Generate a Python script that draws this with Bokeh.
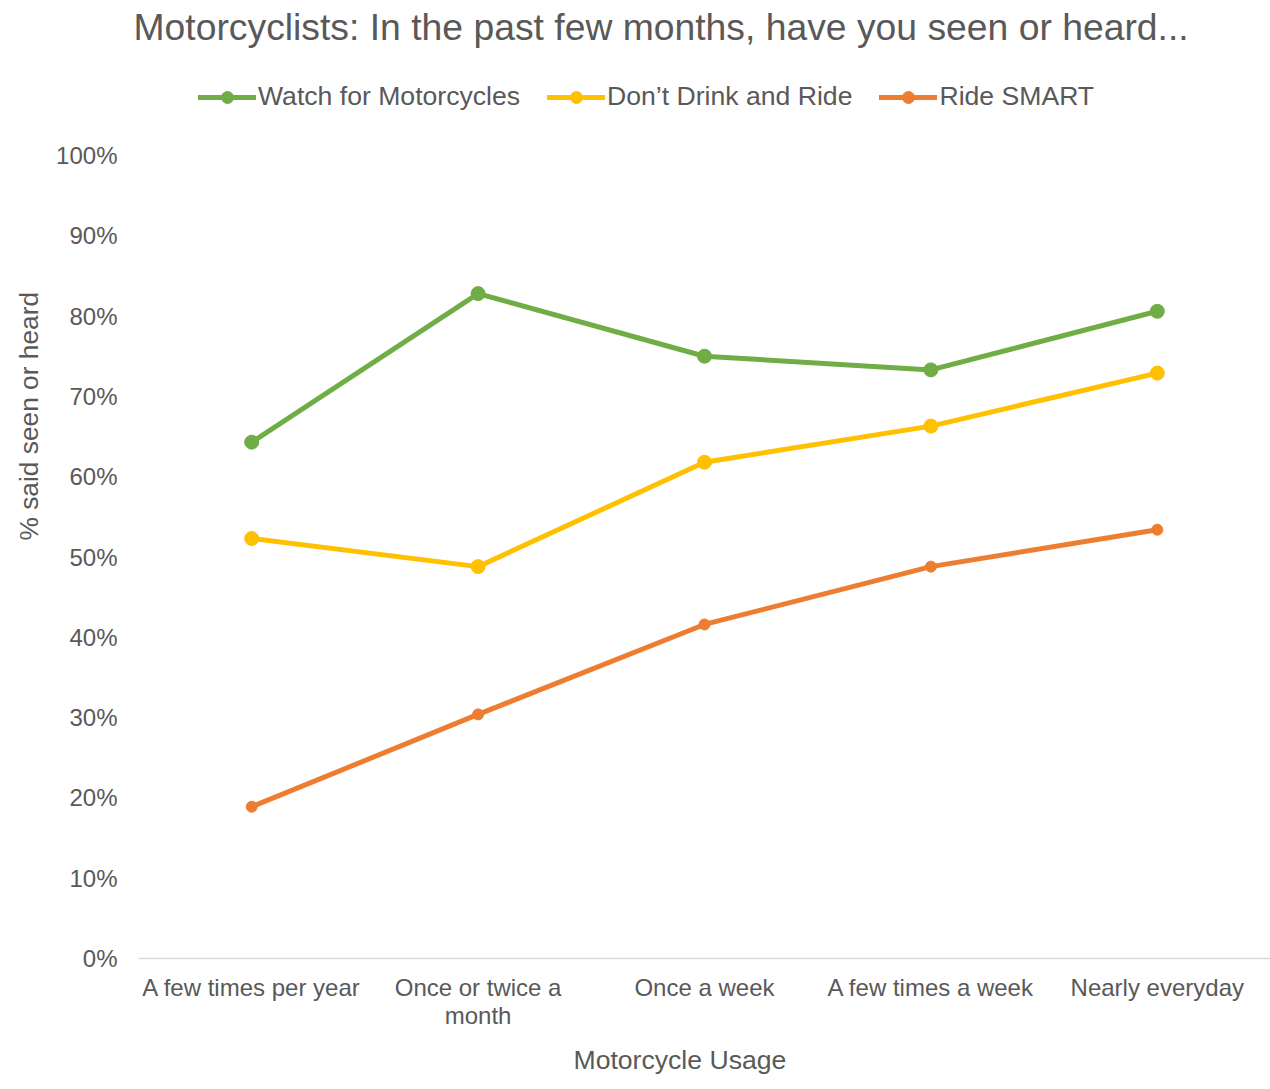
import json
from bokeh.plotting import figure
from bokeh.models import (FactorRange, Range1d, NumeralTickFormatter, FixedTicker,
                          Legend, LegendItem, Title, CategoricalAxis,
                          CustomJSTickFormatter)
from bokeh.embed import file_html
from bokeh.resources import INLINE

categories = ["A few times per year", "Once or twice a month", "Once a week",
              "A few times a week", "Nearly everyday"]
tick_line1 = ["A few times per year", "Once or twice a", "Once a week",
              "A few times a week", "Nearly everyday"]
tick_line2 = ["", "month", "", "", ""]
y_ticks = [0.0, 0.1, 0.2, 0.3, 0.4, 0.5, 0.6, 0.7, 0.8, 0.9, 1.0]
watch = [0.643, 0.828, 0.750, 0.733, 0.806]
dont_drink = [0.523, 0.488, 0.618, 0.663, 0.729]
ride_smart = [0.189, 0.304, 0.416, 0.488, 0.534]

series_names = ["Watch for Motorcycles", "Don\u2019t Drink and Ride", "Ride SMART"]
series_values = [watch, dont_drink, ride_smart]
colors = ["#70AD47", "#FFC000", "#ED7D31"]
marker_sizes = [14, 14, 11]

FONT = "Liberation Sans"
TXT = "#595959"

# layout (pixels)
W, H = 1270, 1089
FRAME_TOP, AXIS_Y, FRAME_LEFT = 50, 958, 138
PX_PER_UNIT = 803.0           # pixels for 0% -> 100%
y_end = (AXIS_Y - FRAME_TOP) / PX_PER_UNIT

p = figure(width=W, height=H, x_range=FactorRange(factors=categories),
           y_range=Range1d(0, y_end), output_backend="svg", toolbar_location=None, title=None,
           min_border_left=FRAME_LEFT, min_border_right=0, min_border_top=FRAME_TOP,
           min_border_bottom=H - AXIS_Y)

p.outline_line_color = None
p.xgrid.grid_line_color = None
p.ygrid.grid_line_color = None

ya = p.yaxis[0]
ya.ticker = FixedTicker(ticks=y_ticks)
ya.formatter = NumeralTickFormatter(format="0%")
ya.axis_line_color = None
ya.major_tick_line_color = None
ya.minor_tick_line_color = None
ya.major_tick_out = 0
ya.major_tick_in = 0
ya.minor_tick_out = 0
ya.major_label_standoff = 21
ya.major_label_text_font = FONT
ya.major_label_text_font_size = "24px"
ya.major_label_text_color = TXT

def fmt(labels):
    mapping = json.dumps(dict(zip(categories, labels)))
    return CustomJSTickFormatter(code="const m = %s; return (tick in m) ? m[tick] : tick;" % mapping)

xa = p.xaxis[0]
xa.formatter = fmt(tick_line1)
xa.axis_line_color = "#D9D9D9"
xa.axis_line_width = 1.5
xa.major_tick_line_color = None
xa.major_tick_out = 0
xa.major_tick_in = 0
xa.major_label_standoff = 15
xa.major_label_text_font = FONT
xa.major_label_text_font_size = "24px"
xa.major_label_text_color = TXT

xa2 = CategoricalAxis(formatter=fmt(tick_line2), axis_line_color=None,
                      major_tick_line_color=None, major_tick_out=0, major_tick_in=0,
                      major_label_standoff=-2, major_label_text_font=FONT,
                      major_label_text_font_size="24px", major_label_text_color=TXT)
p.add_layout(xa2, "below")

p.add_layout(Title(text="Motorcycle Usage", align="left", offset=435, standoff=22,
                   text_font=FONT, text_font_size="26.6px", text_font_style="normal",
                   text_color=TXT), "below")

p.add_layout(Title(text="% said seen or heard", align="left", offset=418, standoff=20,
                   text_font=FONT, text_font_size="26.3px", text_font_style="normal",
                   text_color=TXT), "left")

items = []
for name, vals, col, ms in zip(series_names, series_values, colors, marker_sizes):
    r1 = p.line(categories, vals, line_color=col, line_width=5, line_join="round", line_cap="round")
    r2 = p.scatter(categories, vals, size=ms, fill_color=col, line_color=col)
    items.append(LegendItem(label=name, renderers=[r1, r2]))

legend = Legend(items=items, orientation="horizontal", location=(60, AXIS_Y - 112),
                background_fill_alpha=0, border_line_alpha=0, padding=0, margin=0,
                spacing=27, glyph_width=58, glyph_height=30, label_height=30,
                label_standoff=2, label_text_font=FONT, label_text_font_size="26.6px",
                label_text_color=TXT)
p.add_layout(legend, "center")

p.add_layout(Title(text="Motorcyclists: In the past few months, have you seen or heard...",
                   align="left", offset=-5, standoff=6, text_font=FONT,
                   text_font_size="37.3px", text_font_style="normal", text_color=TXT), "above")

open("out.html", "w").write(file_html(p, INLINE))
